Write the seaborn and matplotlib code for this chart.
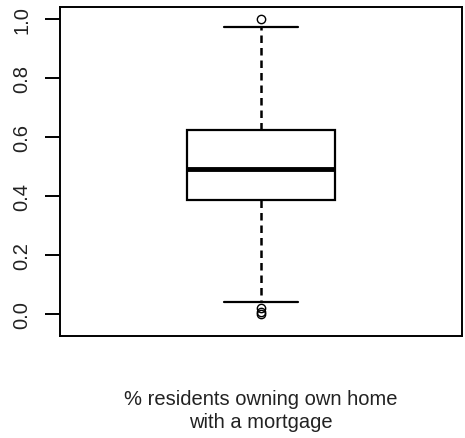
import numpy as np
import pandas as pd
import matplotlib
matplotlib.use("Agg")
import matplotlib.pyplot as plt
import seaborn as sns

# Values (quartiles, whiskers, outliers)
low_outliers = [0.0, 0.008, 0.02]
lower_whisker = [0.041]
box_values = [0.385, 0.42, 0.45, 0.47, 0.49, 0.52, 0.56, 0.60, 0.624]
upper_values = [0.70, 0.85, 0.973]
high_outliers = [1.0]
values = low_outliers + lower_whisker + box_values + upper_values + high_outliers
label = "% residents owning own home\nwith a mortgage"
yticks = [0.0, 0.2, 0.4, 0.6, 0.8, 1.0]

df = pd.DataFrame({"share": values})

sns.set_style("white")
plt.rcParams["font.family"] = ["Liberation Sans", "DejaVu Sans"]

fig = plt.figure(figsize=(4.65, 4.39), dpi=100)
ax = fig.add_axes([0.129, 0.232, 0.8645, 0.75])

sns.boxplot(data=df, y="share", ax=ax, color="white", linecolor="black",
            linewidth=1.6, width=0.368, whis=1.5,
            medianprops=dict(linewidth=3.5, color="black"),
            whiskerprops=dict(linestyle=(0, (3, 2)), linewidth=1.8),
            capprops=dict(linewidth=1.6),
            flierprops=dict(marker="o", markersize=6, markerfacecolor="none",
                            markeredgecolor="black", markeredgewidth=1))

ax.set_xlim(-0.5, 0.5)
ax.set_ylim(-0.075, 1.041)
ax.set_yticks(yticks)
ax.set_yticklabels([f"{t:.1f}" for t in yticks], rotation=90, va="center",
                   fontsize=14.5, color="#222222")
ax.set_xticks([])
ax.set_ylabel("")
ax.set_xlabel(label, fontsize=14.5, labelpad=38, linespacing=1.3, color="#222222")
ax.tick_params(axis="y", left=True, direction="out", length=10.5, width=1.4,
               pad=10, color="black")
for side in ax.spines.values():
    side.set_visible(True)
    side.set_color("black")
    side.set_linewidth(1.4)

fig.savefig("out.png", dpi=100, facecolor="white")
